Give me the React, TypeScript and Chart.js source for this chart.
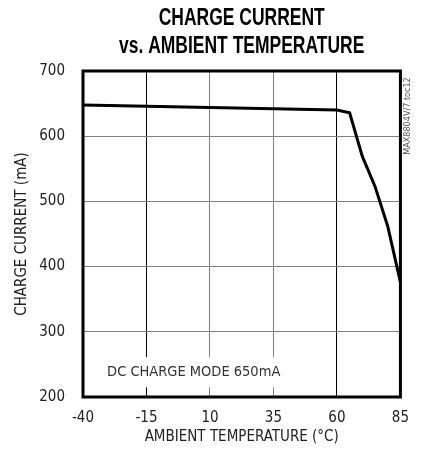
import React, { useEffect, useRef } from "react";
import { Chart, registerables } from "chart.js";

Chart.register(...registerables);

const temperatures = [-40, -15, 10, 35, 60, 65, 70, 75, 80, 85];
const chargeCurrent = [648, 646, 644, 642, 640, 636, 569, 523, 462, 376];
const xTicks = [-40, -15, 10, 35, 60, 85];
const yTicks = [200, 300, 400, 500, 600, 700];
const titleLines = ["CHARGE CURRENT", "vs. AMBIENT TEMPERATURE"];
const xTitle = "AMBIENT TEMPERATURE (°C)";
const yTitle = "CHARGE CURRENT (mA)";
const noteText = "DC CHARGE MODE 650mA";
const noteAnchor = { x: -30.5, y: 238 };
const watermark = "MAX8804V/7 toc12";
const darkGridX = [-15, 60];

const COND = '"DejaVu Sans Condensed", "DejaVu Sans", sans-serif';
const HELV = '"Liberation Sans", Arial, sans-serif';

const decorPlugin = {
  id: "decor",
  beforeDatasetsDraw(chart: any) {
    const { ctx, scales } = chart;
    const x = scales.x.getPixelForValue(noteAnchor.x);
    const y = scales.y.getPixelForValue(noteAnchor.y);
    ctx.save();
    ctx.font = `14.5px ${COND}`;
    const w = ctx.measureText(noteText).width;
    ctx.fillStyle = "#ffffff";
    ctx.fillRect(x - 5, y - 15, w + 8, 30);
    ctx.fillStyle = "#333333";
    ctx.textBaseline = "middle";
    ctx.textAlign = "left";
    ctx.fillText(noteText, x, y);
    ctx.restore();
  },
  afterDatasetsDraw(chart: any) {
    const { ctx, chartArea } = chart;
    ctx.save();
    ctx.strokeStyle = "#000000";
    ctx.lineWidth = 3;
    ctx.strokeRect(chartArea.left, chartArea.top, chartArea.right - chartArea.left, chartArea.bottom - chartArea.top);
    ctx.restore();
    // title, condensed by horizontal scaling
    const cx = (chartArea.left + chartArea.right) / 2;
    ctx.save();
    ctx.fillStyle = "#000000";
    ctx.textAlign = "center";
    ctx.textBaseline = "middle";
    ctx.font = `bold 23px ${HELV}`;
    ctx.translate(cx, 0);
    ctx.scale(0.76, 1);
    ctx.fillText(titleLines[0], 0, 19);
    ctx.fillText(titleLines[1], 0, 47);
    ctx.restore();
    // watermark
    ctx.save();
    ctx.translate(chartArea.right + 7, chartArea.top + 45);
    ctx.rotate(-Math.PI / 2);
    ctx.textAlign = "center";
    ctx.textBaseline = "middle";
    ctx.font = `9px ${COND}`;
    ctx.fillStyle = "#555555";
    ctx.fillText(watermark, 0, 0);
    ctx.restore();
  },
};

export default function App() {
  const ref = useRef<HTMLCanvasElement>(null);
  useEffect(() => {
    if (!ref.current) return;
    const chart = new Chart(ref.current, {
      type: "line",
      data: {
        datasets: [
          {
            data: temperatures.map((t, i) => ({ x: t, y: chargeCurrent[i] })),
            borderColor: "#000000",
            borderWidth: 3,
            pointRadius: 0,
            tension: 0,
            fill: false,
          },
        ],
      },
      options: {
        responsive: false,
        animation: false,
        layout: { padding: { left: 0, right: 10, top: 71, bottom: 0 } },
        plugins: { legend: { display: false }, title: { display: false }, tooltip: { enabled: false } },
        scales: {
          x: {
            type: "linear",
            min: -40,
            max: 85,
            afterFit: (s: any) => { s.height = 62; },
            afterBuildTicks: (s: any) => { s.ticks = xTicks.map((v) => ({ value: v })); },
            grid: {
              drawTicks: false,
              color: (c: any) => (darkGridX.includes(c.tick?.value) ? "#000000" : "#808080"),
              lineWidth: 1,
            },
            border: { display: false },
            ticks: { padding: 12, color: "#222222", font: { family: COND, size: 15 } },
            title: {
              display: true,
              text: xTitle,
              color: "#222222",
              font: { family: COND, size: 15 },
              padding: { top: 0, bottom: 13 },
            },
          },
          y: {
            type: "linear",
            min: 200,
            max: 700,
            afterFit: (s: any) => { s.width = 83; },
            afterBuildTicks: (s: any) => { s.ticks = yTicks.map((v) => ({ value: v })); },
            grid: { drawTicks: false, color: "#808080", lineWidth: 1 },
            border: { display: false },
            ticks: { padding: 18, color: "#222222", font: { family: COND, size: 15 } },
            title: {
              display: true,
              text: yTitle,
              color: "#222222",
              font: { family: COND, size: 15 },
              padding: { top: 13, bottom: 0 },
            },
          },
        },
      },
      plugins: [decorPlugin],
    } as any);
    return () => chart.destroy();
  }, []);
  return (
    <div style={{ position: "absolute", left: 0, top: 0, width: 421, height: 459, background: "#fff" }}>
      <canvas ref={ref} width={421} height={459} />
    </div>
  );
}
